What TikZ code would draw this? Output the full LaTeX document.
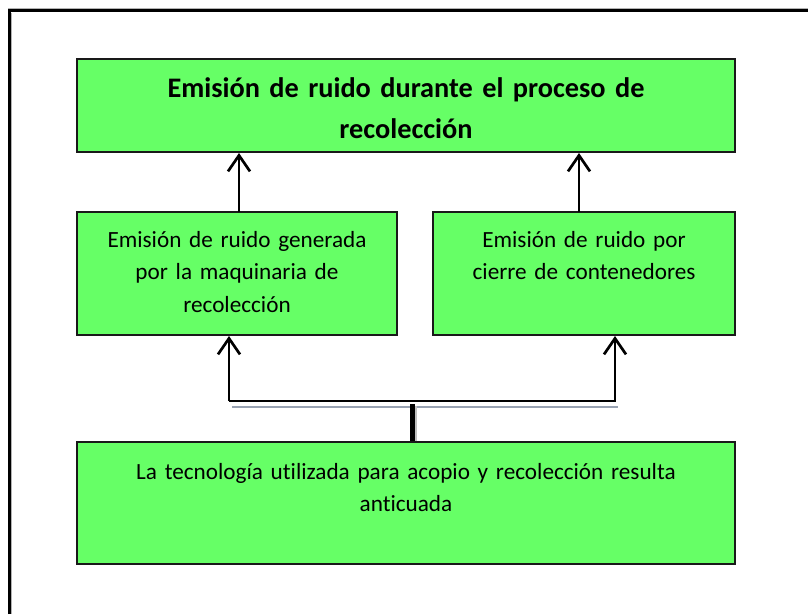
\documentclass[tikz,border=0pt]{standalone}
\usepackage{fontspec}
\setmainfont[Ligatures=NoCommon,WordSpace=0.8]{Carlito}
\usetikzlibrary{arrows.meta,calc}
\definecolor{boxgreen}{HTML}{66FF66}
\definecolor{bargray}{HTML}{98A2B2}
\tikzset{
  box/.style={draw=black!90, line width=2pt, fill=boxgreen, inner sep=0pt},
  bodytext/.style={font=\fontsize{23.2}{32.5}\selectfont, align=center, inner sep=0pt, anchor=base},
  titletext/.style={font=\fontsize{28.3}{41}\selectfont\bfseries, align=center, inner sep=0pt, anchor=base},
  arr/.style={line width=2.7pt, -{Straight Barb[length=16pt,width=22pt]}},
}
\begin{document}
\begin{tikzpicture}[x=1pt,y=-1pt]
\useasboundingbox (0,0) rectangle (808,614);
% outer frame (clipped at right and bottom)
\draw[gray!60, line width=1pt] (11.5,614) -- (11.5,12.5);
\draw[gray!60, line width=1pt] (8,8.2) -- (808,8.2);
\draw[line width=3pt] (9.5,614) -- (9.5,10.5) -- (808,10.5);
% boxes
\node[box, minimum width=658pt, minimum height=93pt] (top) at (406,105.5) {};
\node[box, minimum width=320pt, minimum height=123pt] (ml) at (237,273.5) {};
\node[box, minimum width=302pt, minimum height=123pt] (mr) at (584,273.5) {};
\node[box, minimum width=658pt, minimum height=122pt] (bot) at (406,503) {};
% texts
\node[titletext, text width=640pt] (ttop) at (406,97) {Emisión de ruido durante el proceso de\\recolección};
\node[bodytext, text width=310pt] (tml) at (237,247) {Emisión de ruido generada\\por la maquinaria de\\recolección};
\node[bodytext, text width=290pt] (tmr) at (584,247) {Emisión de ruido por\\cierre de contenedores};
\node[bodytext, text width=640pt] (tbot) at (406,479) {La tecnología utilizada para acopio y recolección resulta\\anticuada};
% arrows middle -> top
\coordinate (al) at (239,212);
\coordinate (ar) at (579,212);
\draw[arr] (al) -- (al |- top.south);
\draw[arr] (ar) -- (ar |- top.south);
% bottom connector
\coordinate (hl) at (229,401);
\coordinate (hr) at (615,401);
\draw[arr] (hl) -- (hr) -- (hr |- mr.south);
\draw[arr] (hl) -- (hl |- ml.south);
\coordinate (gl) at (232,407);
\coordinate (gr) at (618,407);
\draw[bargray, line width=2.5pt] (gl) -- (gr);
\coordinate (jv) at (412,404);
\draw[gray!50, line width=2pt] ($(jv)+(4,2)$) -- ($(jv |- bot.north)+(4,0)$);
\draw[line width=5pt] (jv) -- (jv |- bot.north);
\end{tikzpicture}
\end{document}
